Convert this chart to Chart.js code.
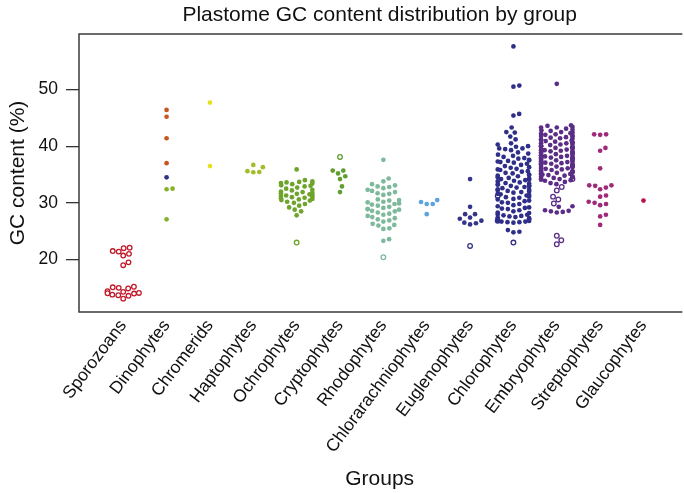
<!DOCTYPE html>
<html><head><meta charset="utf-8">
<script src="https://cdn.jsdelivr.net/npm/chart.js@4"></script>
<style>html,body{margin:0;padding:0;background:#fff;}#wrap{width:684px;height:493px;}</style>
</head><body><div id="wrap"><canvas id="c" width="684" height="493"></canvas></div>
<script>
// ---------------- DATA ----------------
const categories = ['Sporozoans','Dinophytes','Chromerids','Haptophytes','Ochrophytes','Cryptophytes','Rhodophytes','Chlorarachniophytes','Euglenophytes','Chlorophytes','Embryophytes','Streptophytes','Glaucophytes'];
const yTickValues = [20, 30, 40, 50];

const sporozoansHollow = [22.1, 22.0, 21.5, 21.4, 21.0, 20.7, 19.5, 19.0, 15.2, 15.1, 15.0, 14.9, 14.4, 14.3, 14.1, 14.05, 14.0, 13.8, 13.7, 13.6, 13.1];
const dinophytesOrange = [46.4, 45.2, 41.4, 37.0];
const dinophytesNavy = [34.5];
const dinophytesGreen = [32.5, 32.4, 27.1];
const chromerids = [47.7, 36.5];
const haptophytes = [36.7, 36.3, 35.6, 35.45, 35.4];
const ochrophytes = [35.9, 34.0, 33.8, 33.7, 33.6, 33.5, 33.4, 33.3, 33.1, 33.0, 32.9, 32.7, 32.5, 32.3, 32.2, 32.0, 31.9, 31.8, 31.7, 31.6, 31.5, 31.4, 31.3, 31.2, 31.1, 31.0, 30.9, 30.8, 30.7, 30.6, 30.5, 30.4, 30.2, 30.0, 29.8, 29.5, 29.2, 28.8, 28.5, 27.8];
const ochrophytesHollow = [23.0];
const cryptophytes = [35.7, 35.7, 35.2, 34.7, 34.2, 32.9, 31.9];
const cryptophytesHollow = [38.1];
const rhodophytes = [37.6, 34.3, 33.8, 33.3, 33.1, 32.9, 32.8, 32.6, 32.3, 32.1, 31.9, 31.7, 31.6, 31.4, 30.6, 30.5, 30.4, 30.2, 30.1, 29.9, 29.8, 29.7, 29.5, 29.3, 29.1, 28.9, 28.9, 28.8, 28.6, 28.5, 28.3, 28.1, 27.9, 27.7, 27.5, 27.3, 27.1, 26.9, 26.7, 26.3, 26.1, 26.0, 25.5, 25.4, 23.6, 23.3];
const rhodophytesHollow = [20.4];
const chlorarachniophytes = [30.5, 30.15, 29.8, 29.8, 28.0];
const euglenophytes = [34.2, 29.3, 28.0, 28.0, 27.4, 27.2, 26.85, 26.5, 26.4, 26.2];
const euglenophytesHollow = [22.4];
const chlorophytes = [57.6, 50.7, 50.5, 45.7, 45.4, 43.3, 42.5, 42.4, 41.7, 41.2, 40.5, 40.3, 40.0, 39.9, 39.6, 39.6, 39.5, 39.3, 38.9, 38.7, 38.5, 38.3, 38.1,
  37.9, 37.8, 37.6, 37.5, 37.4, 37.3, 37.2, 37.1, 36.9, 36.7, 36.5, 36.3, 36.2, 36.0,
  35.9, 35.8, 35.6, 35.5, 35.3, 35.2, 35.0, 34.9, 34.8, 34.7, 34.5, 34.4, 34.3, 34.2, 34.1, 34.0,
  33.9, 33.8, 33.6, 33.5, 33.4, 33.3, 33.2, 33.1, 33.0, 32.9, 32.8, 32.7, 32.6, 32.4, 32.3, 32.2, 32.1, 32.0,
  31.9, 31.8, 31.6, 31.5, 31.4, 31.3, 31.1, 31.0, 30.9, 30.7, 30.6, 30.4, 30.3, 30.1, 30.0,
  29.8, 29.6, 29.4, 29.2, 29.1, 29.0, 28.9, 28.7, 28.5, 28.3, 28.2, 28.0,
  27.9, 27.8, 27.7, 27.6, 27.5, 27.4, 27.3, 27.2, 27.1, 26.9, 26.8, 26.7, 26.7, 26.6, 26.6, 26.5,
  25.2, 24.9, 24.8];
const chlorophytesHollow = [31.2, 26.85, 23.0];
const embryophytes = [51.0,
  43.7, 43.6, 43.4, 43.3, 43.3, 43.1, 42.9,
  42.8, 42.7, 42.5, 42.4, 42.3, 42.2, 42.1, 42.0,
  41.9, 41.8, 41.7, 41.6, 41.5, 41.4, 41.3, 41.2, 41.1, 41.0,
  40.9, 40.8, 40.7, 40.6, 40.5, 40.5, 40.4, 40.3, 40.2, 40.1, 40.0, 40.0,
  39.9, 39.8, 39.7, 39.7, 39.6, 39.5, 39.4, 39.3, 39.3, 39.2, 39.1, 39.0, 39.0,
  38.9, 38.8, 38.8, 38.7, 38.6, 38.5, 38.4, 38.4, 38.3, 38.2, 38.1, 38.0, 38.0, 38.0,
  37.9, 37.9, 37.8, 37.7, 37.6, 37.6, 37.5, 37.4, 37.3, 37.3, 37.2, 37.1, 37.0, 37.0,
  36.9, 36.8, 36.8, 36.7, 36.6, 36.5, 36.5, 36.4, 36.3, 36.2, 36.1, 36.0, 36.0,
  35.9, 35.8, 35.7, 35.6, 35.5, 35.5, 35.4, 35.3, 35.2, 35.1, 35.0, 35.0,
  34.9, 34.8, 34.7, 34.6, 34.5, 34.4, 34.3, 34.2, 34.1, 34.0,
  33.9, 33.7, 33.5, 33.3,
  29.4, 29.3, 28.7, 28.6, 28.5, 28.4, 28.3];
const embryophytesHollow = [34.2, 32.8, 32.2, 31.1, 30.6, 29.9, 24.2, 23.4, 22.7];
const streptophytes = [42.1, 42.0, 42.1, 39.7, 39.2, 36.1, 33.1, 33.0, 33.1, 32.7, 32.4, 31.3, 31.1, 30.2, 30.0, 29.8, 29.6, 27.9, 27.6, 26.1];
const glaucophytes = [30.4];

// ---------------- STYLE ----------------
const colors = {
  red: '#C21A2A', orange: '#C9551F', navyD: '#2F3085', greenD: '#86B22A', yellow: '#E6DF1E',
  hapto: '#A1BE2A', ochro: '#6EA42A', crypto: '#5F9F2F', rhodo: '#7EB99C', chlorar: '#5BA4E2',
  eugl: '#34348A', chloro: '#2F2F8A', embryo: '#5B2D87', strepto: '#A02A7A', glauco: '#B5124E'
};

const groups = [
  [{v: sporozoansHollow, c: colors.red, h: true}],
  [{v: dinophytesOrange, c: colors.orange}, {v: dinophytesNavy, c: colors.navyD}, {v: dinophytesGreen, c: colors.greenD}],
  [{v: chromerids, c: colors.yellow}],
  [{v: haptophytes, c: colors.hapto}],
  [{v: ochrophytes, c: colors.ochro}, {v: ochrophytesHollow, c: colors.ochro, h: true}],
  [{v: cryptophytes, c: colors.crypto}, {v: cryptophytesHollow, c: colors.crypto, h: true}],
  [{v: rhodophytes, c: colors.rhodo}, {v: rhodophytesHollow, c: colors.rhodo, h: true}],
  [{v: chlorarachniophytes, c: colors.chlorar}],
  [{v: euglenophytes, c: colors.eugl}, {v: euglenophytesHollow, c: colors.eugl, h: true}],
  [{v: chlorophytes, c: colors.chloro}, {v: chlorophytesHollow, c: colors.chloro, h: true}],
  [{v: embryophytes, c: colors.embryo}, {v: embryophytesHollow, c: colors.embryo, h: true}],
  [{v: streptophytes, c: colors.strepto}],
  [{v: glaucophytes, c: colors.glauco}]
];

const datasets = [];
const membership = [];
groups.forEach((parts, gi) => {
  membership[gi] = [];
  parts.forEach(p => {
    membership[gi].push(datasets.length);
    datasets.push({
      data: p.v.map(val => ({x: gi + 1, y: val})),
      showLine: false,
      pointRadius: p.h ? 2.3 : 2.35,
      pointHoverRadius: 2.35,
      pointBorderWidth: p.h ? 1.3 : 0,
      pointBackgroundColor: p.h ? '#ffffff' : p.c,
      pointBorderColor: p.c
    });
  });
});

const FONT = "'Liberation Sans', Arial, Helvetica, sans-serif";

const boxPlugin = {
  id: 'box',
  afterDatasetsDraw(chart) {
    const {ctx, chartArea: a} = chart;
    ctx.save();
    ctx.strokeStyle = '#3a3a3a';
    ctx.lineWidth = 1.5;
    ctx.beginPath();
    ctx.moveTo(a.right + 2, a.top);
    ctx.lineTo(a.left, a.top);
    ctx.lineTo(a.left, a.bottom);
    ctx.lineTo(a.right + 2, a.bottom);
    ctx.stroke();
    ctx.restore();
  }
};

const chart = new Chart(document.getElementById('c'), {
  type: 'scatter',
  data: {datasets},
  plugins: [boxPlugin],
  options: {
    responsive: false,
    animation: false,
    devicePixelRatio: 1,
    layout: {padding: {left: 0, right: 0, top: 0, bottom: 0}},
    plugins: {
      legend: {display: false},
      tooltip: {enabled: false},
      title: {
        display: true, fullSize: false,
        text: 'Plastome GC content distribution by group',
        color: '#111', font: {family: FONT, size: 21, weight: 'normal'},
        padding: {top: 2.4, bottom: 6.4}
      }
    },
    scales: {
      x: {
        type: 'linear', min: -0.02, max: 13.85,
        afterBuildTicks: s => { s.ticks = categories.map((c, i) => ({value: i + 1})); },
        afterFit: s => { s.height = 181; },
        grid: {display: false},
        border: {display: false},
        ticks: {
          autoSkip: false, minRotation: 53, maxRotation: 53, padding: -4,
          color: '#111', font: {family: FONT, size: 17.5},
          callback: v => categories[Math.round(v) - 1] || ''
        },
        title: {display: true, text: 'Groups', color: '#111', font: {family: FONT, size: 21}, padding: {top: 0, bottom: 1}}
      },
      y: {
        min: 10.74, max: 59.8,
        afterBuildTicks: s => { s.ticks = yTickValues.map(v => ({value: v})); },
        afterFit: s => { s.width = 79; },
        grid: {display: true, drawOnChartArea: false, drawTicks: true, tickLength: 13, color: '#333', lineWidth: 1.3},
        border: {display: false},
        ticks: {padding: 8, color: '#111', font: {family: FONT, size: 17.5}},
        title: {display: true, text: 'GC content (%)', color: '#111', font: {family: FONT, size: 21}, padding: {top: 6, bottom: 0}}
      }
    }
  }
});

// beeswarm ("swarm" method, ascending priority, gutter corral), computed in pixel space from the chart's own scales
function applySwarm() {
  const xs = chart.scales.x, ys = chart.scales.y;
  const pxX = xs.getPixelForValue(1) - xs.getPixelForValue(0);
  const pxY = ys.getPixelForValue(0) - ys.getPixelForValue(1);
  const d = 6.0, gutter = 15.7;
  membership.forEach((dsIdx, gi) => {
    const pts = [];
    dsIdx.forEach(di => chart.data.datasets[di].data.forEach((pt, k) => pts.push({di, k, pos: pt.y * pxY})));
    pts.sort((a, b) => a.pos - b.pos);
    const placed = [];
    pts.forEach(p => {
      const near = placed.filter(q => Math.abs(q.pos - p.pos) < d);
      const cands = [0];
      near.forEach(q => cands.push(q.off + Math.sqrt(d * d - (q.pos - p.pos) ** 2)));
      near.forEach(q => cands.push(q.off - Math.sqrt(d * d - (q.pos - p.pos) ** 2)));
      let best = 0, bestAbs = Infinity;
      cands.forEach(c => {
        const bad = near.some(q => (q.pos - p.pos) ** 2 + (q.off - c) ** 2 < 0.999 * d * d);
        if (!bad && Math.abs(c) < bestAbs) { best = c; bestAbs = Math.abs(c); }
      });
      p.off = best;
      placed.push(p);
    });
    pts.forEach(p => {
      const o = Math.max(-gutter, Math.min(gutter, p.off));
      chart.data.datasets[p.di].data[p.k].x = gi + 1 + o / pxX;
    });
  });
  chart.update('none');
}
applySwarm();
</script>
</body></html>
